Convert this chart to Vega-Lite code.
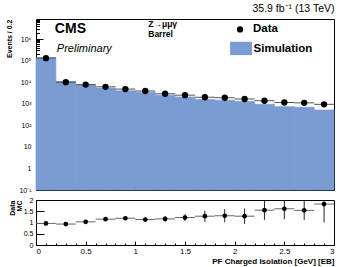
{
  "$schema": "https://vega.github.io/schema/vega-lite/v6.json",
  "padding": {"left": 4, "top": 3, "right": 0, "bottom": 0},
  "bounds": "flush",
  "spacing": 10,
  "config": {
    "font": "Liberation Sans",
    "view": {"stroke": "black", "strokeWidth": 1},
    "axis": {"grid": false, "domain": false, "tickColor": "black", "labelColor": "black", "titleColor": "black", "labelFont": "Liberation Sans", "titleFont": "Liberation Sans"}
  },
  "datasets": {
    "bins": [
      {"c": 0.1, "lo": 0.0, "hi": 0.2, "data": 130000, "mc": 138000, "r": 0.96, "rlo": 0.93, "rhi": 0.99},
      {"c": 0.3, "lo": 0.2, "hi": 0.4, "data": 10000, "mc": 10800, "r": 0.93, "rlo": 0.9, "rhi": 0.96},
      {"c": 0.5, "lo": 0.4, "hi": 0.6, "data": 7700, "mc": 7500, "r": 1.03, "rlo": 0.98, "rhi": 1.08},
      {"c": 0.7, "lo": 0.6, "hi": 0.8, "data": 6100, "mc": 5300, "r": 1.15, "rlo": 1.08, "rhi": 1.22},
      {"c": 0.9, "lo": 0.8, "hi": 1.0, "data": 4800, "mc": 4000, "r": 1.19, "rlo": 1.1, "rhi": 1.28},
      {"c": 1.1, "lo": 1.0, "hi": 1.2, "data": 3900, "mc": 3450, "r": 1.13, "rlo": 1.04, "rhi": 1.22},
      {"c": 1.3, "lo": 1.2, "hi": 1.4, "data": 2900, "mc": 2500, "r": 1.16, "rlo": 1.04, "rhi": 1.28},
      {"c": 1.5, "lo": 1.4, "hi": 1.6, "data": 2500, "mc": 2050, "r": 1.22, "rlo": 1.07, "rhi": 1.37},
      {"c": 1.7, "lo": 1.6, "hi": 1.8, "data": 2000, "mc": 1560, "r": 1.28, "rlo": 1.03, "rhi": 1.53},
      {"c": 1.9, "lo": 1.8, "hi": 2.0, "data": 1900, "mc": 1460, "r": 1.3, "rlo": 1.01, "rhi": 1.59},
      {"c": 2.1, "lo": 2.0, "hi": 2.2, "data": 1660, "mc": 1280, "r": 1.28, "rlo": 0.94, "rhi": 1.62},
      {"c": 2.3, "lo": 2.2, "hi": 2.4, "data": 1380, "mc": 950, "r": 1.55, "rlo": 1.12, "rhi": 1.98},
      {"c": 2.5, "lo": 2.4, "hi": 2.6, "data": 1140, "mc": 730, "r": 1.61, "rlo": 1.14, "rhi": 2.0},
      {"c": 2.7, "lo": 2.6, "hi": 2.8, "data": 1100, "mc": 690, "r": 1.54, "rlo": 1.11, "rhi": 1.97},
      {"c": 2.9, "lo": 2.8, "hi": 3.0, "data": 940, "mc": 510, "r": 1.82, "rlo": 1.0, "rhi": 2.0}
    ],
    "labels": [
      {"x": 0.19, "y": 3000000, "t": "CMS", "kind": "cms"},
      {"x": 0.21, "y": 340000, "t": "Preliminary", "kind": "prelim"},
      {"x": 1.13, "y": 5000000, "t": "Z→μμγ", "kind": "small"},
      {"x": 1.13, "y": 1700000, "t": "Barrel", "kind": "small"},
      {"x": 2.185, "y": 2800000, "t": "Data", "kind": "leg"},
      {"x": 2.19, "y": 340000, "t": "Simulation", "kind": "leg"}
    ]
  },
  "vconcat": [
    {
      "width": 298,
      "height": 171,
      "title": {"text": "35.9 fb⁻¹ (13 TeV)", "anchor": "end", "fontSize": 10.5, "fontWeight": "normal", "offset": 5, "font": "Liberation Sans"},
      "resolve": {"axis": {"x": "independent", "y": "independent"}},
      "layer": [
        {
          "data": {"name": "bins"},
          "mark": {"type": "rect", "fill": "#7b9bd3", "stroke": "#7b9bd3", "strokeWidth": 0.7},
          "encoding": {
            "x": {"field": "lo", "type": "quantitative", "scale": {"domain": [0, 3], "nice": false, "zero": false},
              "axis": {"orient": "bottom", "values": [0, 0.5, 1, 1.5, 2, 2.5, 3], "labels": false, "tickSize": -5, "title": null}},
            "x2": {"field": "hi"},
            "y": {"field": "mc", "type": "quantitative", "scale": {"type": "log", "domain": [0.1, 8500000], "nice": false},
              "axis": {"orient": "left", "values": [0.1, 1, 10, 100, 1000, 10000, 100000, 1000000], "tickSize": -7, "labelFontSize": 7, "labelPadding": 12,
                "labelExpr": "datum.value < 0.5 ? '10⁻¹' : datum.value < 5 ? '1' : datum.value < 50 ? '10' : datum.value < 500 ? '10²' : datum.value < 5000 ? '10³' : datum.value < 50000 ? '10⁴' : datum.value < 500000 ? '10⁵' : '10⁶'",
                "title": "Events / 0.2", "titleFontSize": 7, "titleFontWeight": "bold", "titleAnchor": "end", "titleBaseline": "middle", "titleX": -27}},
            "y2": {"datum": 0.1}
          }
        },
        {
          "data": {"name": "bins"},
          "mark": {"type": "rule", "color": "#555555", "strokeWidth": 1},
          "encoding": {
            "x": {"field": "lo", "type": "quantitative",
              "axis": {"orient": "bottom", "values": [0.1, 0.2, 0.3, 0.4, 0.6, 0.7, 0.8, 0.9, 1.1, 1.2, 1.3, 1.4, 1.6, 1.7, 1.8, 1.9, 2.1, 2.2, 2.3, 2.4, 2.6, 2.7, 2.8, 2.9], "labels": false, "tickSize": -2.5, "title": null}},
            "x2": {"field": "hi"},
            "y": {"field": "data", "type": "quantitative",
              "axis": {"orient": "left", "labels": false, "tickSize": -3.5, "title": null,
                "values": [0.2, 0.3, 0.4, 0.5, 0.6, 0.7, 0.8, 0.9, 2, 3, 4, 5, 6, 7, 8, 9, 20, 30, 40, 50, 60, 70, 80, 90, 200, 300, 400, 500, 600, 700, 800, 900, 2000, 3000, 4000, 5000, 6000, 7000, 8000, 9000, 20000, 30000, 40000, 50000, 60000, 70000, 80000, 90000, 200000, 300000, 400000, 500000, 600000, 700000, 800000, 900000, 2000000, 3000000, 4000000, 5000000, 6000000, 7000000, 8000000]}}
          }
        },
        {
          "data": {"name": "bins"},
          "mark": {"type": "point", "filled": true, "color": "black", "size": 40, "opacity": 1},
          "encoding": {
            "x": {"field": "c", "type": "quantitative", "axis": null},
            "y": {"field": "data", "type": "quantitative", "axis": null}
          }
        },
        {
          "data": {"values": [{"x1": 1.954, "x2": 2.175, "y1": 180000, "y2": 750000}]},
          "mark": {"type": "rect", "fill": "#7b9bd3"},
          "encoding": {
            "x": {"field": "x1", "type": "quantitative", "axis": null},
            "x2": {"field": "x2"},
            "y": {"field": "y1", "type": "quantitative", "axis": null},
            "y2": {"field": "y2"}
          }
        },
        {
          "data": {"values": [{"x": 2.054, "y": 2800000}]},
          "mark": {"type": "point", "filled": true, "color": "black", "size": 40, "opacity": 1},
          "encoding": {
            "x": {"field": "x", "type": "quantitative", "axis": null},
            "y": {"field": "y", "type": "quantitative", "axis": null}
          }
        },
        {
          "data": {"name": "labels"},
          "transform": [{"filter": "datum.kind == 'cms'"}],
          "mark": {"type": "text", "align": "left", "baseline": "middle", "fontSize": 14, "fontWeight": "bold", "color": "black"},
          "encoding": {
            "x": {"field": "x", "type": "quantitative", "axis": null},
            "y": {"field": "y", "type": "quantitative", "axis": null},
            "text": {"field": "t"}
          }
        },
        {
          "data": {"name": "labels"},
          "transform": [{"filter": "datum.kind == 'prelim'"}],
          "mark": {"type": "text", "align": "left", "baseline": "middle", "fontSize": 11, "fontStyle": "italic", "color": "black"},
          "encoding": {
            "x": {"field": "x", "type": "quantitative", "axis": null},
            "y": {"field": "y", "type": "quantitative", "axis": null},
            "text": {"field": "t"}
          }
        },
        {
          "data": {"name": "labels"},
          "transform": [{"filter": "datum.kind == 'small'"}],
          "mark": {"type": "text", "align": "left", "baseline": "middle", "fontSize": 8.5, "fontWeight": "bold", "color": "black"},
          "encoding": {
            "x": {"field": "x", "type": "quantitative", "axis": null},
            "y": {"field": "y", "type": "quantitative", "axis": null},
            "text": {"field": "t"}
          }
        },
        {
          "data": {"name": "labels"},
          "transform": [{"filter": "datum.kind == 'leg'"}],
          "mark": {"type": "text", "align": "left", "baseline": "middle", "fontSize": 11.5, "fontWeight": "bold", "color": "black"},
          "encoding": {
            "x": {"field": "x", "type": "quantitative", "axis": null},
            "y": {"field": "y", "type": "quantitative", "axis": null},
            "text": {"field": "t"}
          }
        }
      ]
    },
    {
      "width": 298,
      "height": 45,
      "resolve": {"axis": {"x": "independent", "y": "independent"}},
      "layer": [
        {
          "data": {"name": "bins"},
          "mark": {"type": "rule", "color": "#666666", "strokeWidth": 1},
          "encoding": {
            "x": {"field": "lo", "type": "quantitative", "scale": {"domain": [0, 3], "nice": false, "zero": false},
              "axis": {"orient": "bottom", "values": [0, 0.5, 1, 1.5, 2, 2.5, 3], "tickSize": -4, "labelFontSize": 8, "labelPadding": 6,
                "labelExpr": "format(datum.value, '~g')",
                "title": "PF Charged Isolation [GeV] [EB]", "titleFontSize": 8, "titleFontWeight": "bold", "titleAnchor": "end", "titlePadding": 2}},
            "x2": {"field": "hi"},
            "y": {"field": "r", "type": "quantitative", "scale": {"domain": [0, 2], "nice": false, "zero": false},
              "axis": {"orient": "left", "values": [0, 0.5, 1, 1.5, 2], "tickSize": -8, "labelFontSize": 7, "labelPadding": 11,
                "labelExpr": "format(datum.value, '~g')",
                "title": ["Data", "MC"], "titleFontSize": 7, "titleFontWeight": "bold", "titleAnchor": "end", "titleBaseline": "middle", "titleX": -24, "titleLineHeight": 7}}
          }
        },
        {
          "data": {"name": "bins"},
          "mark": {"type": "rule", "color": "#222222", "strokeWidth": 1, "clip": true},
          "encoding": {
            "x": {"field": "c", "type": "quantitative",
              "axis": {"orient": "bottom", "values": [0.1, 0.2, 0.3, 0.4, 0.6, 0.7, 0.8, 0.9, 1.1, 1.2, 1.3, 1.4, 1.6, 1.7, 1.8, 1.9, 2.1, 2.2, 2.3, 2.4, 2.6, 2.7, 2.8, 2.9], "labels": false, "tickSize": -2, "title": null}},
            "y": {"field": "rlo", "type": "quantitative", "axis": null},
            "y2": {"field": "rhi"}
          }
        },
        {
          "mark": {"type": "rule", "color": "#ff0000", "strokeWidth": 1.2, "strokeDash": [2, 1.5]},
          "encoding": {"y": {"datum": 1, "type": "quantitative", "axis": null}}
        },
        {
          "data": {"name": "bins"},
          "mark": {"type": "point", "filled": true, "color": "black", "size": 22, "opacity": 1},
          "encoding": {
            "x": {"field": "c", "type": "quantitative", "axis": null},
            "y": {"field": "r", "type": "quantitative", "axis": null}
          }
        }
      ]
    }
  ]
}
